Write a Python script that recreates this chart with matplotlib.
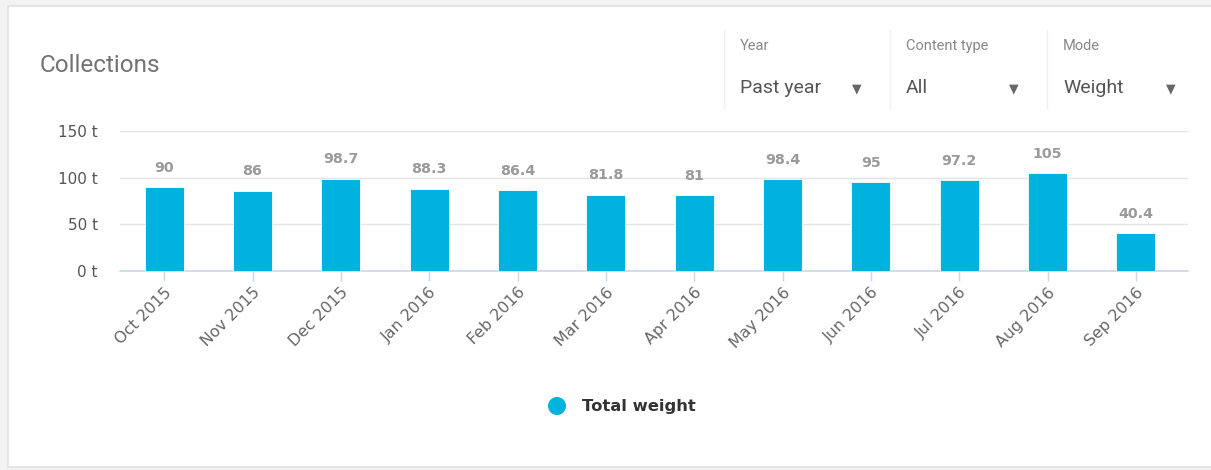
import matplotlib
matplotlib.use("Agg")
import matplotlib.pyplot as plt
from matplotlib.patches import Rectangle, Ellipse
from matplotlib.transforms import ScaledTranslation
import numpy as np

months = ["Oct 2015", "Nov 2015", "Dec 2015", "Jan 2016", "Feb 2016", "Mar 2016",
          "Apr 2016", "May 2016", "Jun 2016", "Jul 2016", "Aug 2016", "Sep 2016"]
weight = [90, 86, 98.7, 88.3, 86.4, 81.8, 81, 98.4, 95, 97.2, 105, 40.4]
labels = ["90", "86", "98.7", "88.3", "86.4", "81.8", "81", "98.4", "95", "97.2", "105", "40.4"]
yticks = [0, 50, 100, 150]

filters = [("Year", "Past year"), ("Content type", "All"), ("Mode", "Weight")]

BAR = "#00b3de"
W, H = 1211, 470

fig = plt.figure(figsize=(W / 100, H / 100), dpi=100)
fig.patch.set_facecolor("#f2f2f2")

# white card behind everything
bg = fig.add_axes([0, 0, 1, 1], zorder=-5)
bg.set_xlim(0, W)
bg.set_ylim(H, 0)
bg.axis("off")
bg.add_patch(Rectangle((8, 6), W, 461, facecolor="white", edgecolor="#e2e2e2", lw=1.2))

ax = fig.add_axes([120 / W, 1 - 271 / H, (1188 - 120) / W, (271 - 131) / H], zorder=2)
ax.patch.set_alpha(0)
x = np.arange(len(months))
ax.bar(x, weight, width=0.44, color=BAR, edgecolor="white", lw=0.6, zorder=3)
for xi, v, s in zip(x, weight, labels):
    ax.annotate(s, (xi, v), xytext=(0, 9), textcoords="offset points",
                ha="center", va="bottom", fontsize=10.3, fontweight="bold", color="#9a9a9a")

ax.set_xlim(-0.5, len(months) - 0.5 + 8 / 88.4)
ax.set_ylim(0, 150)
ax.set_yticks(yticks)
ax.set_yticklabels([f"{t} t" for t in yticks])
ax.set_xticks(x)
ax.set_xticklabels(months, rotation=45, ha="right", rotation_mode="anchor")
# nudge rotated labels so their end sits just right of the tick
for lbl in ax.get_xticklabels():
    lbl.set_transform(lbl.get_transform() + ScaledTranslation(-3 / 100, -1 / 100, fig.dpi_scale_trans))
ax.grid(axis="y", color="#e3e3e3", lw=1, zorder=0)
for s in ["top", "right", "left"]:
    ax.spines[s].set_visible(False)
ax.spines["bottom"].set_color("#ccd6eb")
ax.spines["bottom"].set_linewidth(1.2)
ax.tick_params(axis="y", length=0, pad=16, labelsize=11, labelcolor="#555555")
ax.tick_params(axis="x", length=7, width=1, color="#ccd6eb", pad=3,
               labelsize=11.4, labelcolor="#666666")

fig.text(40 / W, 1 - 65 / H, "Collections", fontsize=17.5, family="Roboto",
         color="#737373", va="center", ha="left")

# dropdown filters
seps = [724, 890, 1047]
arrows = [857, 1014, 1171]
for sx, axx, (lab, val) in zip(seps, arrows, filters):
    fig.add_artist(plt.Line2D([sx / W, sx / W], [1 - 30 / H, 1 - 108 / H],
                              color="#efefef", lw=1))
    fig.text((sx + 16) / W, 1 - 46 / H, lab, fontsize=10.5, family="Roboto",
             color="#888888", va="center")
    fig.text((sx + 16) / W, 1 - 88 / H, val, fontsize=14, family="Roboto",
             color="#555555", va="center")
    fig.text(axx / W, 1 - 89 / H, "\u25bc", fontsize=9, color="#666666",
             ha="center", va="center")

# legend
bg.add_patch(Ellipse((557, 406), 18, 18, facecolor=BAR, edgecolor="none"))
fig.text(582 / W, 1 - 407 / H, "Total weight", fontsize=11.8, fontweight="bold",
         color="#333333", va="center")

fig.savefig("out.png", dpi=100, facecolor=fig.get_facecolor())
